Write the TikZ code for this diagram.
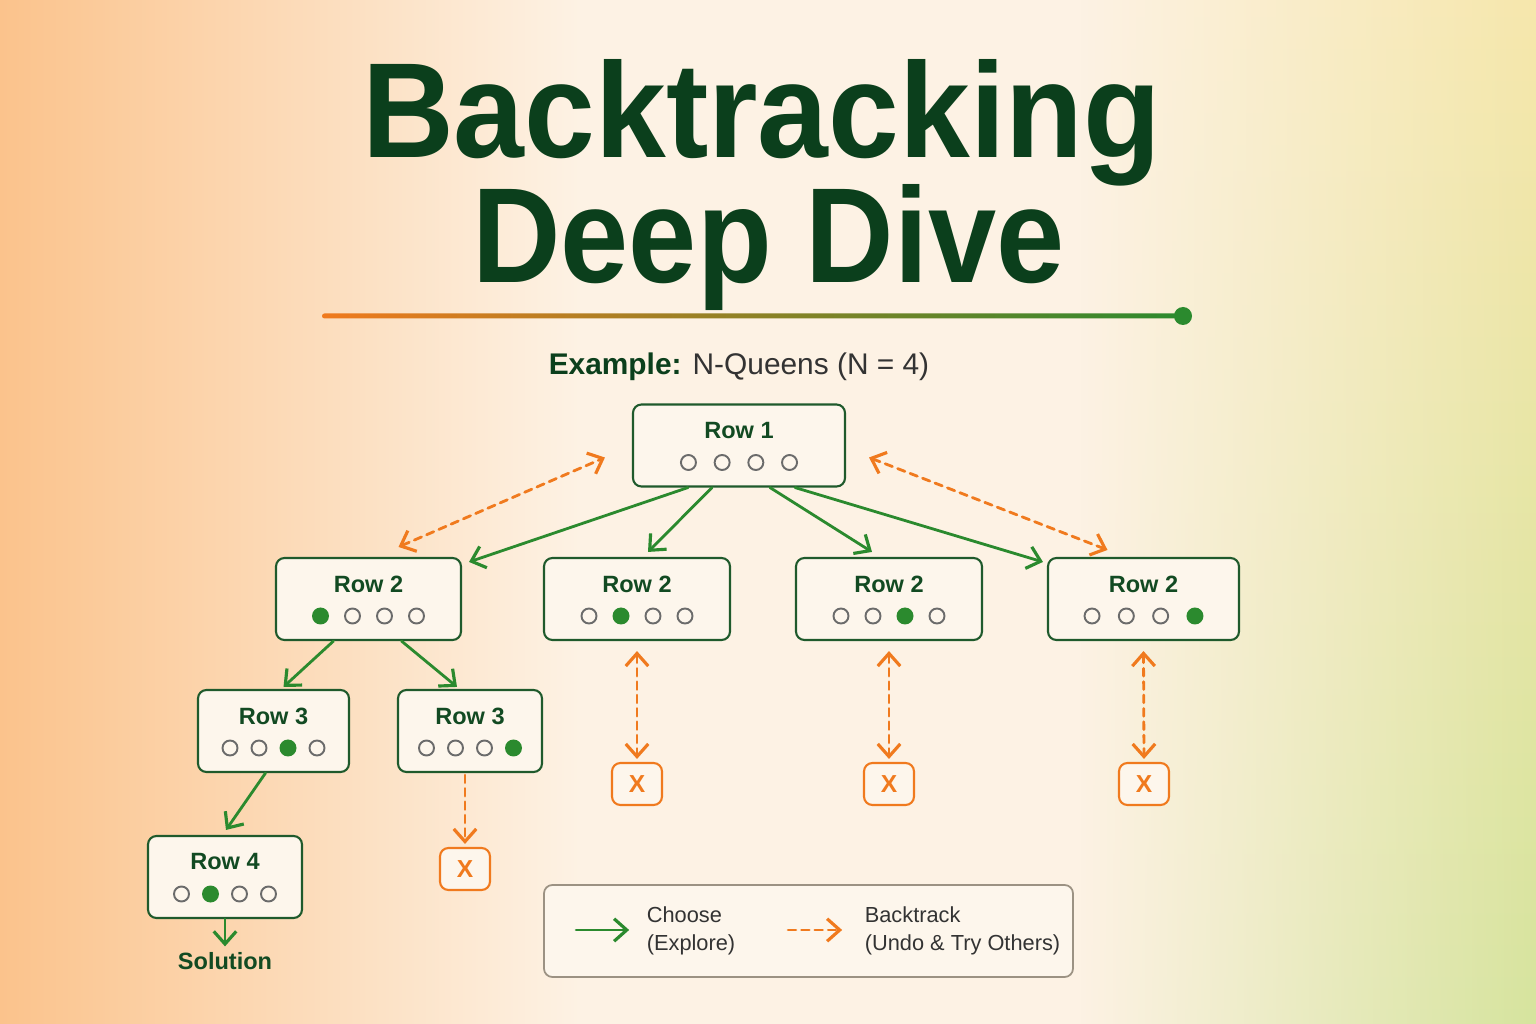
\documentclass[tikz,border=0pt]{standalone}
\usepackage{fontspec}
\usepackage{graphicx}
\setmainfont{Liberation Sans}
\newfontfamily\titlefont{Liberation Sans}
\usetikzlibrary{arrows.meta,calc,fadings}

\definecolor{bgcream}{HTML}{FDF2E4}
\definecolor{bgpeach}{HTML}{FBC38C}
\definecolor{bgyellow}{HTML}{F6E7AC}
\definecolor{bggreen}{HTML}{D6E49E}
\definecolor{titlegreen}{HTML}{0B3F1C}
\definecolor{rowgreen}{HTML}{124A22}
\definecolor{boxgreen}{HTML}{1F5A2C}
\definecolor{boxfill}{HTML}{FDF6EC}
\definecolor{pickgreen}{HTML}{2B8A2E}
\definecolor{undoorange}{HTML}{F07A1E}
\definecolor{lineolive}{HTML}{AE9C22}
\definecolor{dotgray}{HTML}{6B6B6B}
\definecolor{inkgray}{HTML}{333333}
\definecolor{legendline}{HTML}{9C9283}

\tikzset{
  rowbox/.style={draw=boxgreen, line width=0.6pt, fill=boxfill, rounded corners=2.4pt,
    minimum height=8.2mm, inner sep=0pt},
  rowlabel/.style={text=rowgreen, font=\fontsize{6.7}{8}\selectfont\bfseries, inner sep=0pt},
  openq/.style={draw=dotgray, line width=0.55pt, fill=boxfill},
  pickq/.style={fill=pickgreen},
  deadbox/.style={draw=undoorange, line width=0.6pt, fill=boxfill, rounded corners=2.4pt,
    minimum width=5mm, minimum height=4.2mm, inner sep=0pt,
    text=undoorange, font=\fontsize{7}{8}\selectfont\bfseries},
  legtext/.style={align=left, text=inkgray, font=\fontsize{6.2}{8}\selectfont, inner sep=0pt},
  titletext/.style={anchor=base, inner sep=0pt, text=titlegreen,
    font=\titlefont\fontsize{38.5}{40}\selectfont\bfseries},
  tip/.tip={Straight Barb[length=3.6pt,width=6.4pt,line width=0.9pt]},
  choose/.style={draw=pickgreen, line width=0.8pt, -tip},
  undo/.style={draw=undoorange, line width=0.8pt, dash pattern=on 2.2pt off 1.6pt, -tip},
  undoboth/.style={undo, tip-tip},
}

% name, x, y, width, label, picked column, spacing
\newcommand\queenrow[7]{%
  \node[rowbox, minimum width=#4] (#1) at (#2,#3) {};
  \node[rowlabel] (#1lbl) at ($(#1.center)+(0,-15)$) {#5};
  \foreach \col in {1,...,4}{
    \ifnum\col=#6
      \fill[pickq] ($(#1.center)+({(\col-2.5)*#7},17)$) circle (8.5);
    \else
      \filldraw[openq] ($(#1.center)+({(\col-2.5)*#7},17)$) circle (7.5);
    \fi
  }%
}

\begin{document}
\begin{tikzpicture}[x=0.1mm, y=-0.1mm, line cap=round]
  % background
  \fill[bgcream] (0,0) rectangle (1536,1024);
  \shade[left color=bgpeach, middle color=bgpeach!45!bgcream, right color=bgcream] (0,0) rectangle (580,1024);
  \shade[top color=bgyellow, bottom color=bggreen, path fading=west] (1080,0) rectangle (1536,1024);
  \useasboundingbox (0,0) rectangle (1536,1024);

  % title
  \node[titletext, text depth=0pt] (title1) at (761.5,158) {\scalebox{0.94}[1]{Backtracking}};
  \node[titletext] (title2) at (768.5,283) {\scalebox{0.905}[1]{Deep Dive}};
  \shade[left color=undoorange, middle color=lineolive, right color=pickgreen, rounded corners=0.7pt]
    (322,313.5) rectangle (1183,318.5);
  \fill[pickgreen] (1183,316) circle (9);
  \node[anchor=base, inner sep=0pt, text=inkgray, font=\fontsize{8.5}{10}\selectfont] (subtitle)
    at (739,375) {\textcolor{titlegreen}{\bfseries Example:} N-Queens (N = 4)};

  % search tree
  \queenrow{r1}{739}{445.5}{21.2mm}{Row 1}{0}{33.7}
  \queenrow{r2a}{368.5}{599}{18.5mm}{Row 2}{1}{32}
  \queenrow{r2b}{637}{599}{18.6mm}{Row 2}{2}{32}
  \queenrow{r2c}{889}{599}{18.6mm}{Row 2}{3}{32}
  \queenrow{r2d}{1143.5}{599}{19.1mm}{Row 2}{4}{34.3}
  \queenrow{r3a}{273.5}{731}{15.1mm}{Row 3}{3}{29}
  \queenrow{r3b}{470}{731}{14.4mm}{Row 3}{4}{29}
  \queenrow{r4}{225}{877}{15.4mm}{Row 4}{2}{29}
  \node[rowlabel] (sol) at (225,961) {Solution};

  \node[deadbox] (xb) at (637,784) {X};
  \node[deadbox] (xc) at (889,784) {X};
  \node[deadbox] (xd) at (1144,784) {X};
  \node[deadbox] (xf) at (465,869) {X};

  % choose
  \draw[choose] ($(r1.south)+(-51,0)$) -- ($(r2a.north east)+(7,5)$);
  \draw[choose] ($(r1.south)+(-27,0)$) -- ($(r2b.north)+(11,-5)$);
  \draw[choose] ($(r1.south)+(31,0)$) -- ($(r2c.north)+(-17,-5)$);
  \draw[choose] ($(r1.south)+(56,0)$) -- ($(r2d.north west)+(-4,5)$);
  \draw[choose] ($(r2a.south)+(-35,0)$) -- ($(r3a.north)+(10,-2)$);
  \draw[choose] ($(r2a.south)+(33,0)$) -- ($(r3b.north)+(-13,-2)$);
  \draw[choose] ($(r3a.south)+(-8,0)$) -- ($(r4.north)+(1,-5)$);
  \draw[choose, shorten >=1.5pt] (r4.south) -- (sol.north);

  % backtrack
  \draw[undoboth] ($(r2a.north)+(30,-10)$) -- ($(r1.west)+(-27,12)$);
  \draw[undoboth] ($(r1.east)+(23,12)$) -- ($(r2d.north)+(-36,-7)$);
  \draw[undo] ($(xf.north |- r3b.south)+(0,2)$) -- ($(xf.north)+(0,-3)$);
  \draw[undoboth] ($(r2b.south)+(0,10)$) -- ($(xb.north)+(0,-3)$);
  \draw[undoboth] ($(r2c.south)+(0,10)$) -- ($(xc.north)+(0,-3)$);
  \draw[undoboth] ($(r2d.south)+(0,10)$) -- ($(xd.north)+(0,-3)$);

  % legend
  \node[draw=legendline, line width=0.5pt, fill=boxfill, rounded corners=2.4pt,
    minimum width=52.9mm, minimum height=9.2mm] (legend) at (808.5,931) {};
  \coordinate (chooseA) at ($(legend.west)+(33,-1)$);
  \coordinate (chooseB) at ($(legend.west)+(86,-1)$);
  \draw[choose] (chooseA) -- (chooseB);
  \node[legtext, anchor=west] (choosetxt) at ($(legend.west)+(103,0)$) {Choose\\(Explore)};
  \coordinate (undoA) at ($(legend.west)+(245,-1)$);
  \coordinate (undoB) at ($(legend.west)+(299,-1)$);
  \draw[undo] (undoA) -- (undoB);
  \node[legtext, anchor=west] (undotxt) at ($(legend.west)+(321,0)$) {Backtrack\\(Undo \& Try Others)};
\end{tikzpicture}
\end{document}
